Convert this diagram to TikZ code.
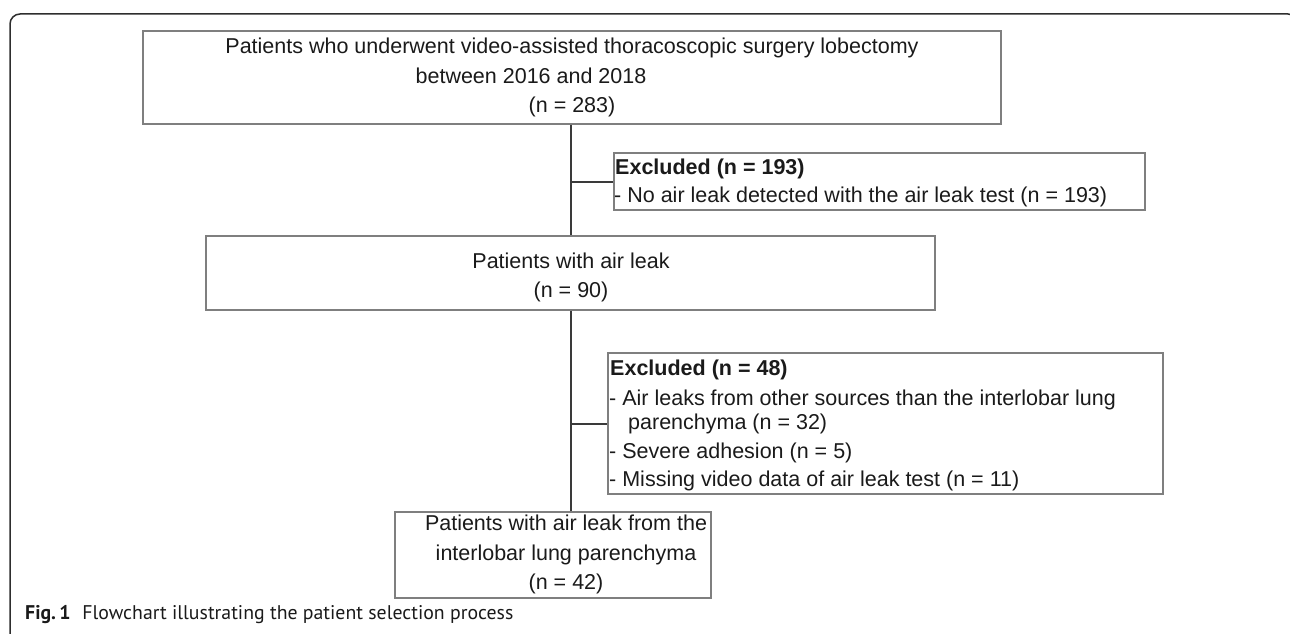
\documentclass[tikz,border=0pt]{standalone}
\usepackage{fontspec}
\setmainfont{Liberation Sans}
\newfontfamily\capfont{PT Sans}
\definecolor{ink}{HTML}{1A1A1A}
\definecolor{boxgray}{HTML}{7F7F7F}
\definecolor{linkgray}{HTML}{3A3A3A}
\definecolor{framegray}{HTML}{2E2E2E}
\begin{document}
\begin{tikzpicture}[x=1pt,y=-1pt,
  box/.style={draw=boxgray, line width=1.2pt, rectangle, inner sep=0pt},
  link/.style={draw=linkgray, line width=1.5pt},
  txt/.style={anchor=base, inner sep=0pt, text=ink, font=\fontsize{21.5}{25}\selectfont},
  ltxt/.style={txt, anchor=base west},
]
\useasboundingbox (0,0) rectangle (1290,634);
\begin{scope}
\clip (0,0) rectangle (1290,634);
% figure frame: left and top rule with a rounded corner
\draw[draw=framegray, line width=1.5pt, rounded corners=10pt]
  (10,650) -- (10,14) -- (1298,14) -- (1298,40);
\end{scope}

% boxes
\node[box, minimum width=858pt, minimum height=93pt] (all) at (572,77.5) {};
\node[box, minimum width=531pt, minimum height=57pt] (ex1) at (879.5,181.5) {};
\node[box, minimum width=729pt, minimum height=74pt] (leak) at (570.5,273) {};
\node[box, minimum width=555pt, minimum height=141pt] (ex2) at (885.5,423.5) {};
\node[box, minimum width=316pt, minimum height=86pt] (final) at (553,555) {};

% box texts
\node[txt] (all1) at (572,54) {Patients who underwent video-assisted thoracoscopic surgery lobectomy};
\node[txt] (all2) at (531,83) {between 2016 and 2018};
\node[txt] (all3) at (572,112) {(n = 283)};

\node[ltxt] (ex1a) at (615,174) {\textbf{Excluded (n = 193)}};
\node[ltxt] (ex1b) at (614,202) {- No air leak detected with the air leak test (n = 193)};

\node[txt] (leak1) at (571,268) {Patients with air leak};
\node[txt] (leak2) at (571,297) {(n = 90)};

\node[ltxt] (ex2a) at (610,375) {\textbf{Excluded (n = 48)}};
\node[ltxt] (ex2b) at (609,405) {- Air leaks from other sources than the interlobar lung};
\node[ltxt] (ex2c) at (628,429) {parenchyma (n = 32)};
\node[ltxt] (ex2d) at (609,458) {- Severe adhesion (n = 5)};
\node[ltxt] (ex2e) at (609,486) {- Missing video data of air leak test (n = 11)};

\node[txt] (fin1) at (566,530) {Patients with air leak from the};
\node[txt] (fin2) at (566,560) {interlobar lung parenchyma};
\node[txt] (fin3) at (566,589) {(n = 42)};

% connectors
\coordinate (j1) at (571,182);
\coordinate (j2) at (571,424);
\draw[link] (all.south -| j1) -- (leak.north -| j1);
\draw[link] (j1) -- (ex1.west |- j1);
\draw[link] (leak.south -| j2) -- (final.north -| j2);
\draw[link] (j2) -- (ex2.west |- j2);

% caption
\node[anchor=base west, inner sep=0pt, text=ink, font=\capfont\fontsize{19.8}{23}\selectfont] (cap) at (25,619)
  {\textbf{Fig.\,1}\hspace{0.6em}Flowchart illustrating the patient selection process};
\end{tikzpicture}
\end{document}
